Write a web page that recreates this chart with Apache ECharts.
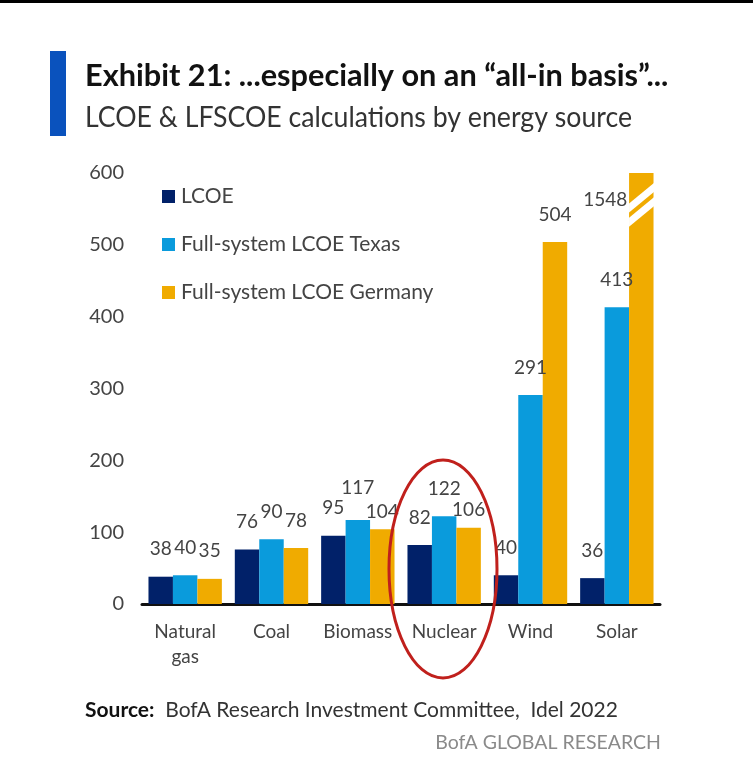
<!DOCTYPE html>
<html lang="en">
<head>
    <meta charset="UTF-8">
    <title>Exhibit 21</title>
    <script src="https://cdn.jsdelivr.net/npm/echarts@6/dist/echarts.min.js"></script>
    <style>
        html, body { margin: 0; padding: 0; background: #fff; }
    </style>
</head>
<body>
    <div id="chart" style="width: 753px; height: 771px;"></div>

    <script>
        var categories = ['Natural\ngas', 'Coal', 'Biomass', 'Nuclear', 'Wind', 'Solar'];
        var yTicks = [0, 100, 200, 300, 400, 500, 600];
        var lcoe = [38, 76, 95, 82, 40, 36];
        var texas = [40, 90, 117, 122, 291, 413];
        var germany = [35, 78, 104, 106, 504, 1548];
        // where the white slashes sit on the cut solar bar
        var breakMarks = [[5, 566], [5, 546]];

        var FONT = 'Lato, sans-serif';
        var BAR_GAP = 0.15;

        // labels that are moved off their default spot, [dx, dy]
        var germanyNudge = { 2: [0, 10], 3: [0, 10], 5: [-36, 54] };
        var texasNudge = { 2: [0, -5] };

        function points(values, nudge) {
            return values.map(function (v, i) {
                var item = { value: v };
                if (nudge && nudge[i]) {
                    item.label = { offset: nudge[i] };
                }
                return item;
            });
        }

        function barSeries(name, color, values, nudge) {
            return {
                name: name,
                type: 'bar',
                barGap: 0,
                barCategoryGap: (BAR_GAP * 100) + '%',
                itemStyle: { color: color },
                label: {
                    show: true,
                    position: 'top',
                    distance: 18,
                    fontFamily: FONT,
                    fontSize: 19,
                    color: '#444'
                },
                data: points(values, nudge)
            };
        }

        function renderBreak(params, api) {
            var c = api.coord([api.value(0), api.value(1)]);
            var w = api.size([1, 0])[0] * (1 - BAR_GAP) / 3;
            var x0 = c[0] + w / 2;
            var x1 = c[0] + w * 1.5 + 1;
            return {
                type: 'polygon',
                shape: {
                    points: [
                        [x0, c[1] + 6],
                        [x1, c[1] - 15],
                        [x1, c[1] - 6],
                        [x0, c[1] + 15]
                    ]
                },
                style: { fill: '#fff' }
            };
        }

        var chart = echarts.init(document.getElementById('chart'));

        chart.setOption({
            animation: false,
            backgroundColor: '#fff',
            grid: { left: 142, top: 173, width: 518, height: 431 },
            legend: {
                left: 157,
                top: 181,
                orient: 'vertical',
                itemWidth: 13,
                itemHeight: 13,
                itemGap: 27,
                icon: 'rect',
                selectedMode: false,
                data: ['LCOE', 'Full-system LCOE Texas', 'Full-system LCOE Germany'],
                textStyle: { fontFamily: FONT, fontSize: 21, color: '#444', padding: [0, 0, 0, 1] }
            },
            xAxis: {
                type: 'category',
                data: categories,
                axisTick: { show: false },
                axisLine: { lineStyle: { color: '#111', width: 3 } },
                axisLabel: { fontFamily: FONT, fontSize: 19, color: '#444', margin: 15, lineHeight: 25, interval: 0 }
            },
            yAxis: {
                type: 'value',
                min: yTicks[0],
                max: yTicks[yTicks.length - 1],
                interval: 100,
                splitLine: { show: false },
                axisLine: { show: false },
                axisTick: { show: false },
                axisLabel: { fontFamily: FONT, fontSize: 20, color: '#444', margin: 18 }
            },
            series: [
                barSeries('LCOE', '#012169', lcoe),
                barSeries('Full-system LCOE Texas', '#0a9bdc', texas, texasNudge),
                barSeries('Full-system LCOE Germany', '#f0ab00', germany, germanyNudge),
                {
                    type: 'custom',
                    renderItem: renderBreak,
                    encode: { x: 0, y: 1 },
                    z: 5,
                    silent: true,
                    data: breakMarks
                }
            ],
            graphic: [
                { type: 'rect', z: 10, shape: { x: 0, y: 0, width: 753, height: 3 }, style: { fill: '#000' } },
                { type: 'rect', z: 10, shape: { x: 50, y: 51, width: 16, height: 85 }, style: { fill: '#0a52bd' } },
                {
                    type: 'text', z: 10, x: 85, y: 76, scaleX: 0.99,
                    style: {
                        text: 'Exhibit 21: ...especially on an \u201call-in basis\u201d...',
                        fontFamily: FONT, fontSize: 31, fontWeight: 'bold', fill: '#111',
                        verticalAlign: 'middle'
                    }
                },
                {
                    type: 'text', z: 10, x: 85, y: 118, scaleX: 0.92,
                    style: {
                        text: 'LCOE & LFSCOE calculations by energy source',
                        fontFamily: FONT, fontSize: 29, fill: '#333',
                        verticalAlign: 'middle'
                    }
                },
                {
                    type: 'ellipse', z: 10,
                    shape: { cx: 443, cy: 569, rx: 54, ry: 109 },
                    style: { fill: 'none', stroke: '#c0201c', lineWidth: 3 }
                },
                {
                    type: 'text', z: 10, x: 85, y: 710,
                    style: {
                        text: '{b|Source:}  BofA Research Investment Committee,  Idel 2022',
                        fontFamily: FONT, fontSize: 21, fill: '#333',
                        verticalAlign: 'middle',
                        rich: {
                            b: { fontFamily: FONT, fontSize: 21, fontWeight: 'bold', fill: '#111' }
                        }
                    }
                },
                {
                    type: 'text', z: 10, x: 661, y: 743,
                    style: {
                        text: 'BofA GLOBAL RESEARCH',
                        fontFamily: FONT, fontSize: 19.5, fill: '#8a8a8a',
                        align: 'right', verticalAlign: 'middle'
                    }
                }
            ]
        });
    </script>
</body>
</html>
